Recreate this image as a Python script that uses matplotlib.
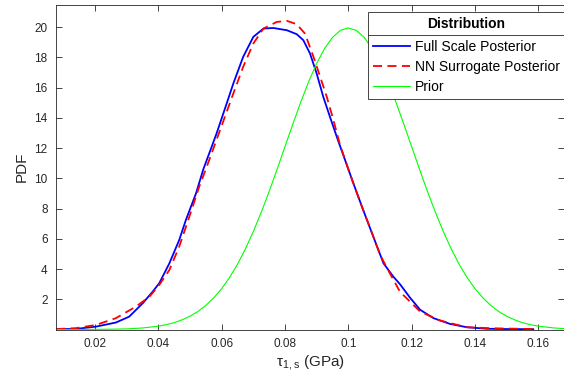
"""
Posterior vs prior PDF of tau_1,s
"""
import matplotlib
matplotlib.use("Agg")
import matplotlib.pyplot as plt
from matplotlib.lines import Line2D

plt.rcParams['font.family'] = ['Liberation Sans', 'DejaVu Sans']
plt.rcParams['mathtext.fontset'] = 'custom'
plt.rcParams['mathtext.rm'] = 'Liberation Sans'

# values
full_x = [0.0077, 0.0140, 0.0203, 0.0266, 0.0308, 0.0351, 0.0382, 0.0403, 0.0435,
          0.0466, 0.0487, 0.0519, 0.0542, 0.0584, 0.0616, 0.0637, 0.0668, 0.0700,
          0.0732, 0.0763, 0.0806, 0.0837, 0.0858, 0.0879, 0.0900, 0.0921, 0.0942,
          0.0969, 0.0984, 0.1016, 0.1047, 0.1079, 0.1111, 0.1142, 0.1163, 0.1195,
          0.1227, 0.1269, 0.1321, 0.1374, 0.1437, 0.1500, 0.1584]
full_y = [0.02, 0.04, 0.19, 0.46, 0.85, 1.74, 2.50, 3.06, 4.38,
          5.92, 7.24, 9.00, 10.59, 12.97, 14.96, 16.28, 18.04, 19.36,
          19.91, 19.95, 19.80, 19.54, 19.14, 18.26, 16.94, 15.39, 14.07,
          12.42, 11.55, 9.67, 7.90, 6.14, 4.38, 3.50, 3.00, 2.10,
          1.30, 0.75, 0.37, 0.15, 0.05, 0.03, 0.02]

nn_x = [0.0077, 0.0140, 0.0203, 0.0266, 0.0329, 0.0372, 0.0403, 0.0435, 0.0466,
        0.0498, 0.0529, 0.0553, 0.0595, 0.0637, 0.0668, 0.0700, 0.0732, 0.0774,
        0.0806, 0.0837, 0.0863, 0.0890, 0.0911, 0.0932, 0.0953, 0.0974, 0.1005,
        0.1037, 0.1069, 0.1100, 0.1131, 0.1163, 0.1195, 0.1227, 0.1290, 0.1374,
        0.1458, 0.1583]
nn_y = [0.03, 0.09, 0.30, 0.75, 1.51, 2.17, 2.95, 3.94, 5.48,
        7.46, 9.44, 10.77, 13.19, 15.62, 17.38, 18.92, 19.91, 20.35,
        20.42, 20.20, 19.58, 18.04, 16.72, 15.39, 13.85, 12.20, 10.30,
        8.45, 6.70, 4.95, 3.72, 2.50, 1.84, 1.18, 0.59, 0.15,
        0.08, 0.03]

prior_x = [0.0077, 0.015, 0.020, 0.025, 0.030, 0.035, 0.040, 0.0425, 0.045, 0.0475,
           0.050, 0.0525, 0.055, 0.0575, 0.060, 0.0625, 0.065, 0.0675, 0.070, 0.0725,
           0.075, 0.0775, 0.080, 0.0825, 0.085, 0.0875, 0.090, 0.0925, 0.095, 0.0975,
           0.100, 0.1025, 0.105, 0.1075, 0.110, 0.1125, 0.115, 0.1175, 0.120, 0.1225,
           0.125, 0.1275, 0.130, 0.1325, 0.135, 0.1375, 0.140, 0.1425, 0.145, 0.1475,
           0.150, 0.1525, 0.155, 0.1575, 0.160, 0.165, 0.170]
prior_y = [0.00, 0.00, 0.01, 0.02, 0.04, 0.10, 0.22, 0.32, 0.45, 0.64,
           0.88, 1.19, 1.59, 2.09, 2.70, 3.44, 4.31, 5.33, 6.48, 7.75,
           9.13, 10.59, 12.10, 13.60, 15.06, 16.41, 17.60, 18.59, 19.33, 19.79,
           19.95, 19.79, 19.33, 18.59, 17.60, 16.41, 15.06, 13.60, 12.10, 10.59,
           9.13, 7.75, 6.48, 5.33, 4.31, 3.44, 2.70, 2.09, 1.59, 1.19,
           0.88, 0.64, 0.45, 0.32, 0.22, 0.10, 0.04]

xticks = [0.02, 0.04, 0.06, 0.08, 0.10, 0.12, 0.14, 0.16]
xtick_labels = ['0.02', '0.04', '0.06', '0.08', '0.1', '0.12', '0.14', '0.16']
yticks = [2, 4, 6, 8, 10, 12, 14, 16, 18, 20]

dark = '#262626'

fig = plt.figure(figsize=(5.64, 3.83), dpi=100)
ax = fig.add_axes([56 / 564, 53.5 / 383, 1 - 56 / 564, (329.5 - 5) / 383])

ax.plot(full_x, full_y, color='#0000ff', lw=1.3, label='Full Scale Posterior')
ax.plot(nn_x, nn_y, color='#ff0000', lw=1.3, ls=(0, (5, 3)), label='NN Surrogate Posterior')
ax.plot(prior_x, prior_y, color='#00ff00', lw=0.8, label='Prior')

ax.set_xlim(0.0077, 0.1681)
ax.set_ylim(0, 21.47)
ax.set_xticks(xticks)
ax.set_xticklabels(xtick_labels)
ax.set_yticks(yticks)
ax.tick_params(direction='in', top=True, right=True, length=4, width=0.6,
               colors=dark, labelsize=8.5, pad=6)
for s in ax.spines.values():
    s.set_color(dark)
    s.set_linewidth(0.6)
ax.spines['right'].set_visible(False)

ax.set_ylabel('PDF', fontsize=11, color=dark, labelpad=4)
ax.set_xlabel('τ$_{\\mathregular{1,s}}$ (GPa)', fontsize=11, color=dark, labelpad=3)

leg = ax.legend(loc='upper left', bbox_to_anchor=(368 / 564, 1 - 12 / 383),
                bbox_transform=fig.transFigure, borderaxespad=0,
                title='Distribution', fontsize=10, handlelength=2.7,
                handletextpad=0.3, labelspacing=0.42, borderpad=0.35,
                fancybox=False, framealpha=1, edgecolor=dark)
leg.get_title().set_fontweight('bold')
leg.get_title().set_fontsize(10)
leg.get_frame().set_linewidth(0.6)
leg._legend_box.sep = 6.7  # extra room between title and entries
for t in leg.get_texts():
    t.set_color('black')

# separator under the legend title
fig.add_artist(Line2D([368 / 564, 1], [1 - 35 / 383, 1 - 35 / 383],
                      color=dark, lw=0.6, zorder=10))

fig.savefig('out.png', dpi=100)
